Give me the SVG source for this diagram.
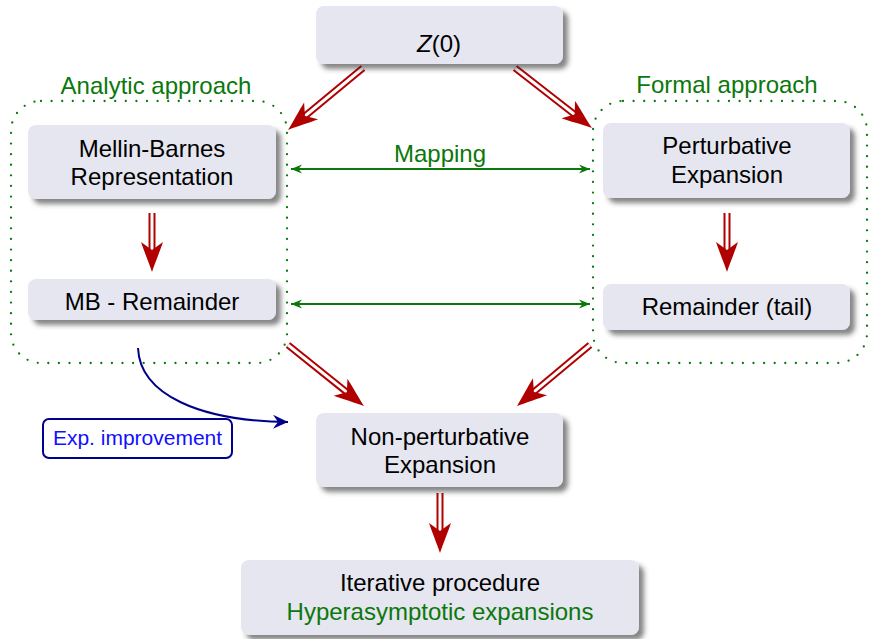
<svg xmlns="http://www.w3.org/2000/svg" width="869" height="639" viewBox="0 0 869 639">
<defs>
<style>
.node rect{fill:#e6e6f0;filter:url(#sh)}
.t{font-family:"Liberation Sans",Arial,sans-serif;font-size:24px;fill:#000;text-anchor:middle}
.g{fill:#0b780b}
.dot{fill:none;stroke:#0b780b;stroke-width:2.3;stroke-linecap:round;stroke-dasharray:0 10.6}
.sr{stroke:#b00000;stroke-width:7;fill:none}
.sw{stroke:#fff;stroke-width:3;fill:none}
.rh{fill:#b00000}
.map{stroke:#0b780b;stroke-width:1.8;fill:none;marker-end:url(#gh);marker-start:url(#gh)}
</style>
<filter id="sh" x="-10%" y="-20%" width="130%" height="150%">
<feDropShadow dx="5" dy="5" stdDeviation="2.5" flood-color="#333" flood-opacity="0.6"/>
</filter>
<path id="rhead" d="M0,0 C-9,-3 -21,-8 -30,-11 L-22,0 L-30,11 C-21,8 -9,3 0,0 Z"/>
<marker id="gh" viewBox="-12 -6 14 12" refX="0" refY="0" markerWidth="14" markerHeight="12" markerUnits="userSpaceOnUse" orient="auto-start-reverse">
<path d="M0,0 L-11,-4.5 L-7.5,0 L-11,4.5 Z" fill="#0b780b"/>
</marker>
<marker id="bh" viewBox="-16 -8 18 16" refX="0" refY="0" markerWidth="18" markerHeight="16" markerUnits="userSpaceOnUse" orient="auto">
<path d="M0,0 L-15,-7 L-10,0 L-15,7 Z" fill="#00008b"/>
</marker>
</defs>

<g id="groups">
<rect class="dot" x="11" y="101" width="276" height="262" rx="30"/>
<text class="t g" x="156" y="94">Analytic approach</text>
<rect class="dot" x="593" y="101" width="274" height="262" rx="30"/>
<text class="t g" x="727" y="93">Formal approach</text>
</g>

<g id="connectors">
<g id="a1"><line class="sr" x1="363" y1="68" x2="305" y2="116"/><line class="sw" x1="363" y1="68" x2="305" y2="116"/><use href="#rhead" class="rh" transform="translate(288,130) rotate(140.4)"/></g>
<g id="a2"><line class="sr" x1="515" y1="68" x2="574.6" y2="114.5"/><line class="sw" x1="515" y1="68" x2="574.6" y2="114.5"/><use href="#rhead" class="rh" transform="translate(592,128) rotate(37.9)"/></g>
<g id="a3"><line class="sr" x1="152" y1="213" x2="152" y2="250"/><line class="sw" x1="152" y1="213" x2="152" y2="250"/><use href="#rhead" class="rh" transform="translate(152,272) rotate(90)"/></g>
<g id="a4"><line class="sr" x1="727" y1="213" x2="727" y2="250"/><line class="sw" x1="727" y1="213" x2="727" y2="250"/><use href="#rhead" class="rh" transform="translate(727,272) rotate(90)"/></g>
<g id="a5"><line class="sr" x1="288" y1="345" x2="346.8" y2="392.2"/><line class="sw" x1="288" y1="345" x2="346.8" y2="392.2"/><use href="#rhead" class="rh" transform="translate(364,406) rotate(38.7)"/></g>
<g id="a6"><line class="sr" x1="590" y1="345" x2="533.9" y2="391.9"/><line class="sw" x1="590" y1="345" x2="533.9" y2="391.9"/><use href="#rhead" class="rh" transform="translate(517,406) rotate(140.1)"/></g>
<g id="a7"><line class="sr" x1="440" y1="493" x2="440" y2="531"/><line class="sw" x1="440" y1="493" x2="440" y2="531"/><use href="#rhead" class="rh" transform="translate(440,553) rotate(90)"/></g>
<g id="map1"><line class="map" x1="291" y1="169" x2="590" y2="169"/><text class="t g" x="440" y="162">Mapping</text></g>
<line id="map2" class="map" x1="291" y1="304" x2="590" y2="304"/>
<path id="exp" d="M138,348 C140,395 200,421 288,422" fill="none" stroke="#00008b" stroke-width="2" marker-end="url(#bh)"/>
</g>

<g id="z0" class="node"><rect x="316" y="6" width="247" height="58" rx="8"/><text class="t" x="439" y="52"><tspan font-style="italic">Z</tspan>(0)</text></g>
<g id="mb" class="node"><rect x="28" y="125" width="248" height="74" rx="8"/><text class="t" x="152" y="157">Mellin-Barnes</text><text class="t" x="152" y="185">Representation</text></g>
<g id="mbr" class="node"><rect x="28" y="279" width="248" height="41" rx="8"/><text class="t" x="152" y="310">MB - Remainder</text></g>
<g id="pe" class="node"><rect x="603" y="123" width="247" height="75" rx="8"/><text class="t" x="727" y="154">Perturbative</text><text class="t" x="727" y="183">Expansion</text></g>
<g id="rt" class="node"><rect x="603" y="284" width="247" height="46" rx="8"/><text class="t" x="727" y="315">Remainder (tail)</text></g>
<g id="np" class="node"><rect x="316" y="413" width="247" height="74" rx="8"/><text class="t" x="440" y="445">Non-perturbative</text><text class="t" x="440" y="473">Expansion</text></g>
<g id="it" class="node"><rect x="241" y="560" width="398" height="75" rx="8"/><text class="t" x="440" y="591">Iterative procedure</text><text class="t g" x="440" y="620">Hyperasymptotic expansions</text></g>
<g id="ei"><rect x="43" y="419" width="189" height="39" rx="6" fill="#fff" stroke="#00008b" stroke-width="2"/><text class="t" x="137.5" y="445" style="font-size:21px;fill:#1010ff">Exp. improvement</text></g>
</svg>
